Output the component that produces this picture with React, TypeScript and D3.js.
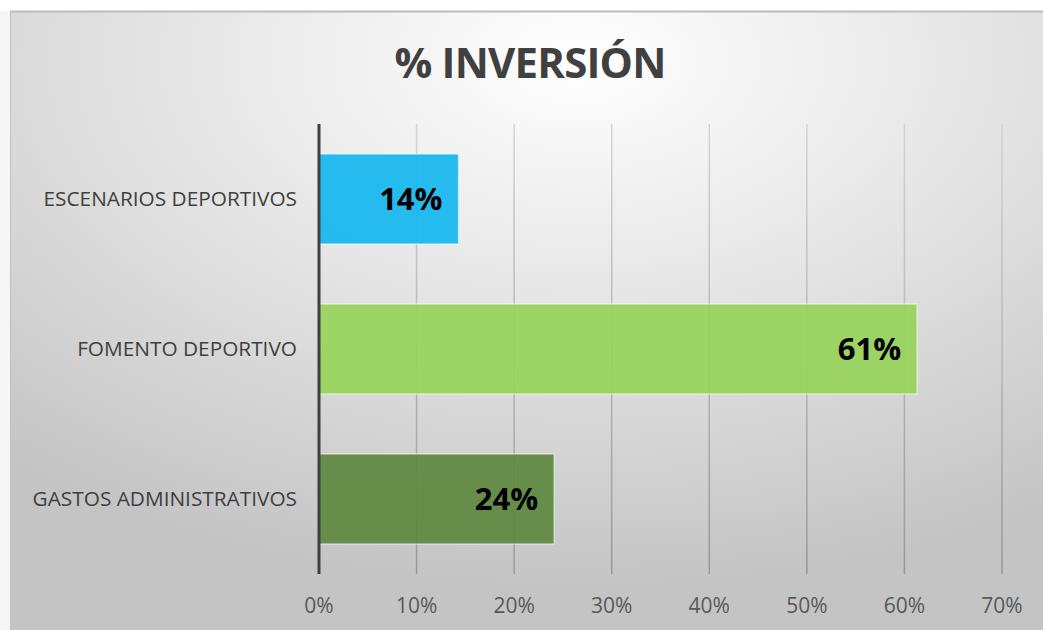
import React from "react";
import * as d3 from "d3";

const title = "% INVERSIÓN";
const categories = ["ESCENARIOS DEPORTIVOS", "FOMENTO DEPORTIVO", "GASTOS ADMINISTRATIVOS"];
const values = [0.143, 0.613, 0.241];
const barColors = ["#15B6EE", "#96D35B", "#5D883E"];
const ticks = [0, 0.1, 0.2, 0.3, 0.4, 0.5, 0.6, 0.7];

const W = 1043;
const H = 630;
const FONT = "'Open Sans', sans-serif";

export default function App() {
  const x = d3.scaleLinear().domain([0, 0.7]).range([319, 1002]);
  const y = d3.scaleBand<string>().domain(categories).range([124, 574]).paddingInner(0.4).paddingOuter(0.2);
  const fmt = d3.format(".0%");
  return (
    <svg width={W} height={H} style={{ position: "absolute", left: 0, top: 0 }}>
      <defs>
        <radialGradient id="bg" cx="0.55" cy="0.08" r="0.85" gradientUnits="objectBoundingBox">
          <stop offset="0" stopColor="#ffffff" />
          <stop offset="0.45" stopColor="#e6e6e6" />
          <stop offset="1" stopColor="#c4c4c4" />
        </radialGradient>
        <linearGradient id="grid" x1="0" y1="124" x2="0" y2="574" gradientUnits="userSpaceOnUse">
          <stop offset="0" stopColor="#d4d4d4" />
          <stop offset="1" stopColor="#979797" />
        </linearGradient>
      </defs>
      <rect x={0} y={0} width={W} height={H} fill="#ffffff" />
      <rect x={0} y={11} width={10} height={H - 11} fill="#f6f6f6" />
      <rect x={10} y={11} width={W - 10} height={H - 11} fill="url(#bg)" />
      <line x1={10} x2={W} y1={11.5} y2={11.5} stroke="#bcbcbc" strokeWidth={2} />
      <line x1={10.5} x2={10.5} y1={11} y2={H} stroke="#c0c0c0" strokeWidth={1} />
      <text x={530} y={78} textAnchor="middle" fontFamily={FONT} fontWeight={700} fontSize={42} letterSpacing={-0.8} fill="#404040">
        {title}
      </text>
      {ticks.slice(1).map((t) => (
        <line key={t} x1={x(t)} x2={x(t)} y1={124} y2={574} stroke="url(#grid)" strokeWidth={1.5} />
      ))}
      {categories.map((c, i) => (
        <g key={c}>
          <rect
            x={x(0)}
            y={y(c)!}
            width={x(values[i]) - x(0)}
            height={y.bandwidth()}
            fill={barColors[i]}
            fillOpacity={0.92}
            stroke="#ffffff"
            strokeOpacity={0.5}
            strokeWidth={1.5}
          />
          <text
            x={x(values[i]) - 16}
            y={y(c)! + y.bandwidth() / 2 + 11}
            textAnchor="end"
            fontFamily={FONT}
            fontWeight={700}
            fontSize={31}
            fill="#000000"
          >
            {fmt(Math.round(values[i] * 100) / 100)}
          </text>
          <text
            x={297}
            y={y(c)! + y.bandwidth() / 2 + 7}
            textAnchor="end"
            fontFamily={FONT}
            fontSize={20.8}
            fill="#404040"
          >
            {c}
          </text>
        </g>
      ))}
      <line x1={x(0)} x2={x(0)} y1={124} y2={574} stroke="#404040" strokeWidth={3} />
      {ticks.map((t) => (
        <text key={t} x={x(t)} y={613} textAnchor="middle" fontFamily={FONT} fontSize={21} fill="#595959">
          {fmt(t)}
        </text>
      ))}
    </svg>
  );
}
